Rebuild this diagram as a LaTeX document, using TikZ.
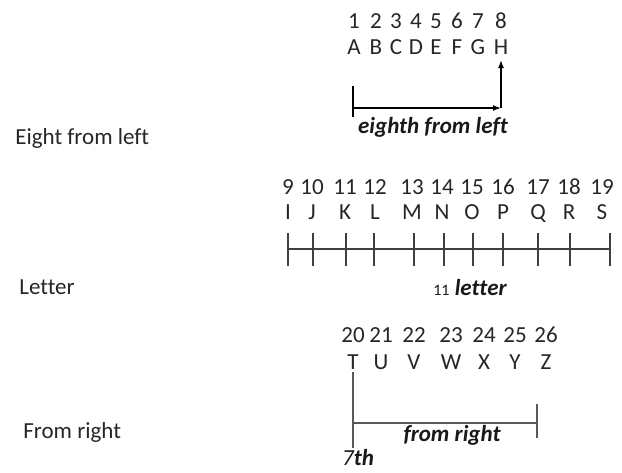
\documentclass[tikz,border=0pt]{standalone}
\usepackage{fontspec}
\setmainfont{Carlito}[Ligatures=NoCommon]
\usetikzlibrary{arrows.meta}

\begin{document}
\begin{tikzpicture}
[x=0.5pt, y=-0.5pt, font=\fontsize{11.5}{13}\selectfont, >={Latex[length=4pt,width=3pt]}]
\tikzstyle{cell}=[inner sep=0pt, text height=7.3pt, text depth=0pt, text=black!85]
\tikzstyle{side}=[inner sep=0pt, anchor=west, text=black!85]
\tikzstyle{note}=[inner sep=0pt, text=black!90, font=\fontsize{11.5}{13}\selectfont\bfseries\itshape]
\tikzstyle{rule}=[line width=0.75pt, black!75]
\useasboundingbox (0,0) rectangle (622,472);

% row labels
\node[side] (lab1) at (15,138) {Eight from left};
\node[side] (lab2) at (19,287) {Letter};
\node[side] (lab3) at (23,432) {From right};

% eighth from left
\foreach \n/\l/\x in {1/A/354, 2/B/376, 3/C/396, 4/D/416, 5/E/436, 6/F/457, 7/G/478, 8/H/501}{
  \node[cell] (d\n) at (\x,21) {\n};
  \node[cell] (c\l) at (\x,47) {\l};
}
\coordinate (s1) at (353,108);
\coordinate (s1t) at (353,86);
\coordinate (s1b) at (353,117);
\coordinate (k1) at (501,108);
\coordinate (h1) at (501,60);
\draw[line width=0.75pt]    (s1t)--(s1b);
\draw[line width=0.75pt,->]    (s1)--(k1);
\draw[line width=0.75pt,->]    (k1)--(h1);
\node[note] (t1) at (433,127) {eighth from left};

% letter
\foreach \n/\l/\x/\t in {9/I/288/288, 10/J/312/313, 11/K/345/346, 12/L/375/374, 13/M/412/414, 14/N/442/444, 15/O/472/473, 16/P/503/503, 17/Q/538/538, 18/R/569/570, 19/S/602/610}{
  \node[cell] (d\n) at (\x,187) {\n};
  \node[cell] (c\l) at (\x,212) {\l};
  \draw[rule] (\t,233)--(\t,266);
}
\coordinate (s2) at (288,249);
\coordinate (e2) at (610,249);
\draw[rule]    (s2)--(e2);
\node[note] (t2) at (470,288) {{\fontsize{8}{9}\selectfont\mdseries\upshape 11} letter};

% from right
\foreach \n/\l/\x in {20/T/353, 21/U/381, 22/V/414, 23/W/451, 24/X/484, 25/Y/515, 26/Z/546}{
  \node[cell] (d\n) at (\x,335) {\n};
  \node[cell] (c\l) at (\x,362) {\l};
}
\coordinate (s3t) at (353,372);
\coordinate (s3b) at (353,448);
\coordinate (s3) at (353,423);
\coordinate (e3) at (537,423);
\coordinate (e3t) at (537,404);
\coordinate (e3b) at (537,438);
\draw[rule,black!65]    (s3t)--(s3b);
\draw[rule,black!65]    (s3)--(e3);
\draw[rule,black!65]    (e3t)--(e3b);
\node[note] (t4) at (358,458) {{\mdseries 7}th};
\node[note] (t3) at (452,435) {from right};
\end{tikzpicture}
\end{document}
